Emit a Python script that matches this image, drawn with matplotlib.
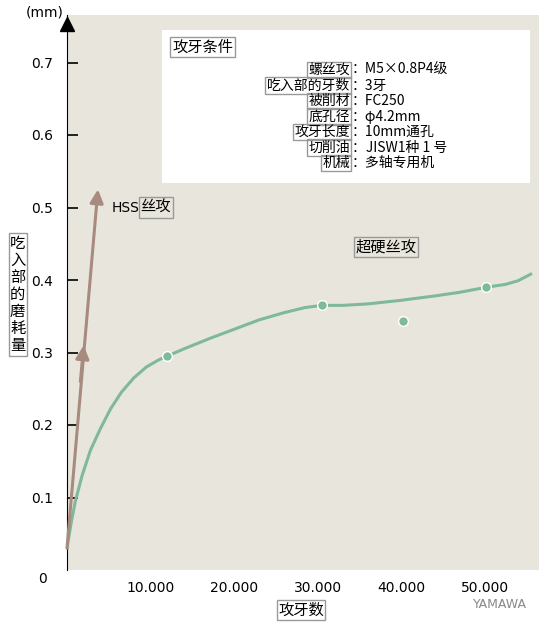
import matplotlib
matplotlib.use("Agg")
import matplotlib.pyplot as plt
from matplotlib.patches import Rectangle

plt.rcParams["font.family"] = ["Noto Sans CJK SC", "DejaVu Sans"]

W, H = 543, 628
BG = "#e8e6dc"
GREEN = "#7fb89a"
BROWN = "#a88a7e"

# carbide tap curve
carb_x = [0, 500, 1000, 1800, 2800, 4000, 5200, 6500, 8000, 9500, 11000, 12000, 14000, 17000, 20000,
          23000, 26000, 28500, 30500, 33000, 36000, 40000, 44000, 47000, 50200, 52500, 54000, 55500]
carb_y = [0.03, 0.065, 0.095, 0.13, 0.165, 0.195, 0.222, 0.245, 0.265, 0.28, 0.29, 0.295, 0.305, 0.319,
          0.332, 0.345, 0.355, 0.362, 0.365, 0.365, 0.367, 0.372, 0.378, 0.383, 0.390, 0.394, 0.399, 0.408]
marker_x = [12000, 30500, 40200, 50200]
marker_y = [0.295, 0.365, 0.343, 0.390]
hss_x = [0, 3700]
hss_y = [0.03, 0.525]

yticks = [0.1, 0.2, 0.3, 0.4, 0.5, 0.6, 0.7]
ytick_labels = ["0.1", "0.2", "0.3", "0.4", "0.5", "0.6", "0.7"]
xticks = [10000, 20000, 30000, 40000, 50000]
xtick_labels = ["10.000", "20.000", "30.000", "40.000", "50.000"]

cond_keys = ["螺丝攻", "吃入部的牙数", "被削材", "底孔径", "攻牙长度", "切削油", "机械"]
cond_vals = ["M5×0.8P4级", "3牙", "FC250", "φ4.2mm", "10mm通孔", "JISW1种 1 号", "多轴专用机"]

fig = plt.figure(figsize=(W / 100, H / 100), dpi=100)
fig.patch.set_facecolor("white")
x0, y0, x1, y1 = 67, 570, 539, 15
ax = fig.add_axes([x0 / W, 1 - y0 / H, (x1 - x0) / W, (y0 - y1) / H])
ax.set_facecolor(BG)
ax.set_xlim(0, 56500)
ax.set_ylim(0, (y0 - y1) / 72.5 * 0.1)
for s in ["top", "right", "bottom"]:
    ax.spines[s].set_visible(False)
ax.spines["left"].set_color("black")
ax.set_yticks(yticks)
ax.set_yticklabels(ytick_labels, fontsize=10, family="DejaVu Sans")
ax.set_xticks(xticks)
ax.set_xticklabels(xtick_labels, fontsize=10, family="DejaVu Sans")
ax.tick_params(axis="y", which="major", left=True, direction="in", length=8, width=1.2,
               pad=10, color="black")
ax.tick_params(axis="x", direction="in", length=0, pad=8)
ax.plot([0], [ax.get_ylim()[1] - 0.012], marker="^", color="black", ms=10, clip_on=False)
ax.text(-2400, -0.012, "0", fontsize=10, ha="right", va="center", family="DejaVu Sans")
fig.text(64 / W, 1 - 12 / H, "(mm)", fontsize=10, ha="right", va="center", family="DejaVu Sans")

box = dict(boxstyle="square,pad=0.1", fc="none", ec="#999999", lw=1)
ax.text(-5900, 0.38, "\n".join("吃入部的磨耗量"), fontsize=11, ha="center", va="center",
        linespacing=1.0, bbox=box)
ax.text(28000, -0.055, "攻牙数", fontsize=11, ha="center", va="center", bbox=box)

# HSS tap
ax.annotate("", xy=(hss_x[1], hss_y[1]), xytext=(hss_x[0], hss_y[0]),
            arrowprops=dict(arrowstyle="-|>", color=BROWN, lw=2.2, mutation_scale=20, shrinkA=0, shrinkB=0))
ax.annotate("", xy=(2000, 0.31), xytext=(1600, 0.26),
            arrowprops=dict(arrowstyle="-|>", color=BROWN, lw=2.2, mutation_scale=20, shrinkA=0, shrinkB=0))
ax.text(5400, 0.50, "HSS", fontsize=10, ha="left", va="center", family="DejaVu Sans")
ax.text(8800, 0.50, "丝攻", fontsize=11, ha="left", va="center", bbox=box)

# carbide tap
ax.plot(carb_x, carb_y, color=GREEN, lw=2.2)
ax.plot(marker_x, marker_y, "o", color=GREEN, ms=7, mec="white", mew=1)
ax.text(34500, 0.445, "超硬丝攻", fontsize=11, ha="left", va="center", bbox=box)

# condition box
fig.patches.append(Rectangle((162 / W, 1 - 183 / H), (530 - 162) / W, (183 - 30) / H,
                             transform=fig.transFigure, fc="white", ec="none"))
fig.text(172 / W, 1 - 47 / H, "攻牙条件", fontsize=11, ha="left", va="center", bbox=box)
for i, (k, v) in enumerate(zip(cond_keys, cond_vals)):
    yy = 1 - (70 + i * 15.5) / H
    fig.text(350 / W, yy, k, fontsize=10, ha="right", va="center", bbox=box)
    fig.text(352 / W, yy, "：" + v, fontsize=10, ha="left", va="center")

fig.text(527 / W, 1 - 605 / H, "YAMAWA", fontsize=9, color="#888888", ha="right", va="center",
         family="DejaVu Sans")

fig.savefig("out.png", dpi=100)
